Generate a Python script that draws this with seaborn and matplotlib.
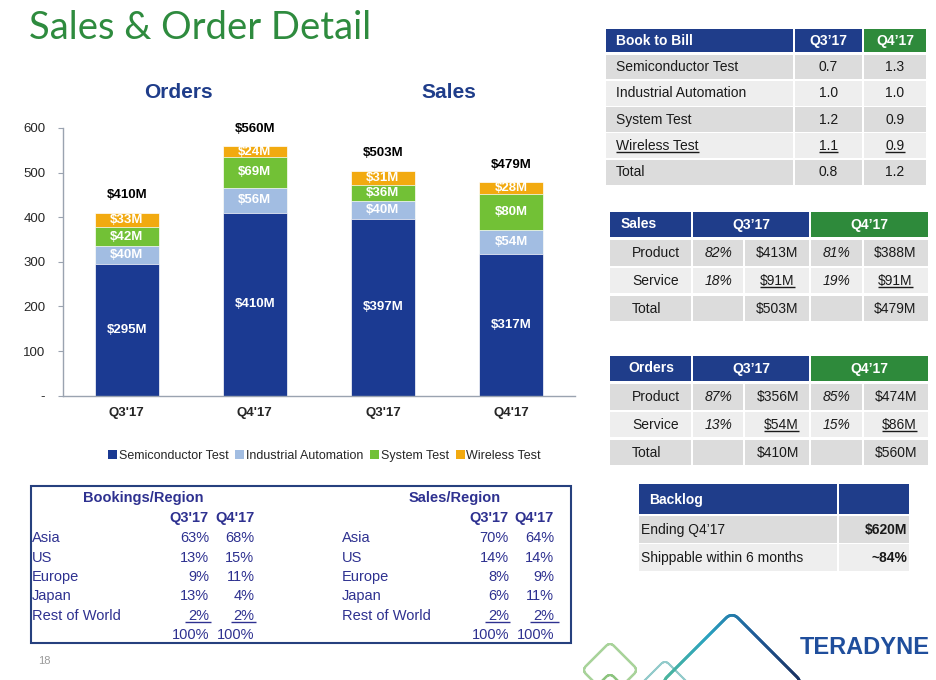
import numpy as np
import pandas as pd
import matplotlib
matplotlib.use("Agg")
import matplotlib.pyplot as plt
import seaborn as sns
from matplotlib.patches import Rectangle, Patch
from matplotlib.collections import LineCollection
from matplotlib.colors import LinearSegmentedColormap

# ---------------- data ----------------
groups = ["Orders", "Orders", "Sales", "Sales"]
periods = ["Q3'17", "Q4'17", "Q3'17", "Q4'17"]
segments = ["Semiconductor Test", "Industrial Automation", "System Test", "Wireless Test"]
semi_test = [295, 410, 397, 317]
ind_auto = [40, 56, 40, 54]
system_test = [42, 69, 36, 80]
wireless_test = [33, 24, 31, 28]
bar_totals = [410, 560, 503, 479]
y_ticks = [0, 100, 200, 300, 400, 500, 600]
y_tick_labels = ["-", "100", "200", "300", "400", "500", "600"]

b2b_rows = ["Semiconductor Test", "Industrial Automation", "System Test", "Wireless Test", "Total"]
b2b_q3 = ["0.7", "1.0", "1.2", "1.1", "0.8"]
b2b_q4 = ["1.3", "1.0", "0.9", "0.9", "1.2"]

mix_rows = ["Product", "Service", "Total"]
sales_q3_pct = ["82%", "18%", ""]
sales_q3_val = ["$413M", "$91M", "$503M"]
sales_q4_pct = ["81%", "19%", ""]
sales_q4_val = ["$388M", "$91M", "$479M"]
orders_q3_pct = ["87%", "13%", ""]
orders_q3_val = ["$356M", "$54M", "$410M"]
orders_q4_pct = ["85%", "15%", ""]
orders_q4_val = ["$474M", "$86M", "$560M"]

regions = ["Asia", "US", "Europe", "Japan", "Rest of World"]
book_q3 = ["63%", "13%", "9%", "13%", "2%"]
book_q4 = ["68%", "15%", "11%", "4%", "2%"]
sales_reg_q3 = ["70%", "14%", "8%", "6%", "2%"]
sales_reg_q4 = ["64%", "14%", "9%", "11%", "2%"]
region_total = "100%"

backlog_rows = ["Ending Q4\u201917", "Shippable within 6 months"]
backlog_vals = ["$620M", "~84%"]

# ---------------- style ----------------
sns.set_style("white")
SANS = ["Liberation Sans", "DejaVu Sans"]
plt.rcParams["font.family"] = SANS

BLUE_HDR = "#1f3d8a"
GREEN_HDR = "#2e8a3b"
ROW_DARK = "#dcdcdc"
ROW_LIGHT = "#eeeeee"
TXT = "#1a1a1a"
NAVY_TXT = "#2e3190"
seg_colors = ["#1b3a92", "#a2bde2", "#72c136", "#f2aa10"]

fig = plt.figure(figsize=(9.36, 6.8), dpi=100)
W, H = 936, 680

# ---------------- stacked bar chart (seaborn) ----------------
ax = fig.add_axes([62.7 / W, 1 - 395.7 / H, (575 - 62.7) / W, (395.7 - 128) / H])
keys = [f"{g} {p}" for g, p in zip(groups, periods)]
layers = np.array([semi_test, ind_auto, system_test, wireless_test], dtype=float)
cum = np.cumsum(layers, axis=0)
df = pd.DataFrame({"key": keys})
for i, name in enumerate(segments):
    df[name] = cum[i]
for i in reversed(range(len(segments))):
    sns.barplot(data=df, x="key", y=segments[i], order=keys, color=seg_colors[i],
                saturation=1, width=0.5, errorbar=None, ax=ax,
                edgecolor="white", linewidth=0.5)

for i in range(len(segments)):
    for j in range(len(keys)):
        v = layers[i, j]
        ax.text(j, cum[i, j] - v / 2, f"${int(v)}M", ha="center", va="center",
                color="white", fontsize=9.5, fontweight="bold")
for j, tot in enumerate(bar_totals):
    ax.annotate(f"${tot}M", (j, cum[-1, j]), xytext=(0, 12.5), textcoords="offset points",
                ha="center", va="center", fontsize=9.5, fontweight="bold", color="black")

ax.set_xlim(-0.5, 3.5)
ax.set_ylim(0, 600)
ax.set_xlabel("")
ax.set_ylabel("")
ax.set_xticks(range(len(keys)))
ax.set_xticklabels(periods, fontsize=9.5, fontweight="bold")
ax.set_xticks(np.arange(-0.5, len(keys), 1.0), minor=True)
ax.tick_params(axis="x", which="major", length=0, pad=8)
ax.tick_params(axis="x", which="minor", length=4, color="#9aa3b0", direction="out")
ax.set_yticks(y_ticks)
ax.set_yticklabels(y_tick_labels, fontsize=9.5)
ax.tick_params(axis="y", length=3.5, color="#9aa3b0", direction="out", pad=9, left=True)
for s in ["top", "right"]:
    ax.spines[s].set_visible(False)
for s in ["left", "bottom"]:
    ax.spines[s].set_color("#9aa3b0")
    ax.spines[s].set_linewidth(1.0)
ax.set_facecolor("none")

handles = [Patch(facecolor=c, edgecolor="none") for c in seg_colors]
fig.legend(handles, segments, loc="center", bbox_to_anchor=(324.5 / W, 1 - 456 / H),
           ncol=4, frameon=False, fontsize=9, handlelength=0.7, handleheight=0.7,
           handletextpad=0.15, columnspacing=0.55, borderaxespad=0)

# ---------------- overlay in pixel coordinates ----------------
ov = fig.add_axes([0, 0, 1, 1], zorder=5)
ov.set_xlim(0, W)
ov.set_ylim(H, 0)
ov.axis("off")
ov.patch.set_alpha(0)
renderer = fig.canvas.get_renderer()


def cell(x0, x1, y0, y1, color):
    ov.add_patch(Rectangle((x0, y0), x1 - x0, y1 - y0, facecolor=color, edgecolor="none"))


def txt(x, y, s, ha="left", size=10, color=TXT, weight="normal", style="normal",
        underline=False, ul_l=0.0, ul_r=0.0, family=None):
    t = ov.text(x, y, s, ha=ha, va="center", fontsize=size, color=color,
                fontweight=weight, fontstyle=style, family=family or SANS)
    if underline:
        bb = t.get_window_extent(renderer)
        inv = ov.transData.inverted()
        (xa, ya), (xb, yb) = inv.transform([[bb.x0, bb.y0], [bb.x1, bb.y1]])
        ov.plot([xa - ul_l, xb + ul_r], [ya - 1.0, ya - 1.0], color=color, lw=1.0,
                solid_capstyle="butt")
    return t


# title
txt(29, 28, "Sales & Order Detail", size=27.5, color="#2e8b3e", family=["Lato", "DejaVu Sans"])

# chart titles
txt(178, 92, "Orders", ha="center", size=15, color=BLUE_HDR, weight="bold")
txt(449, 93, "Sales", ha="center", size=15, color=BLUE_HDR, weight="bold")

# ---------------- Book to Bill table ----------------
cols = [(606, 793), (795, 862), (864, 926)]
cell(cols[0][0], cols[0][1], 29, 52, BLUE_HDR)
cell(cols[1][0], cols[1][1], 29, 52, BLUE_HDR)
cell(cols[2][0], cols[2][1], 29, 52, GREEN_HDR)
txt(616, 41, "Book to Bill", size=10, color="white", weight="bold")
txt(828.5, 41, "Q3\u201917", ha="center", size=10, color="white", weight="bold")
txt(895, 41, "Q4\u201917", ha="center", size=10, color="white", weight="bold")
for i, (lab, a, b) in enumerate(zip(b2b_rows, b2b_q3, b2b_q4)):
    top = 54.5 + i * 26.3
    col = ROW_DARK if i % 2 == 0 else ROW_LIGHT
    for (x0, x1) in cols:
        cell(x0, x1, top, top + 24.8, col)
    yc = top + 12.6
    ul = lab == "Wireless Test"
    txt(616, yc, lab, size=10, underline=ul)
    txt(828.5, yc, a, ha="center", size=10, underline=ul)
    txt(895, yc, b, ha="center", size=10, underline=ul)


# ---------------- Sales / Orders mix tables ----------------
def mix_table(y0, title, title_x, q3p, q3v, q4p, q4v, val_align):
    cell(610, 691, y0, y0 + 24.5, BLUE_HDR)
    cell(693, 809, y0, y0 + 24.5, BLUE_HDR)
    cell(811, 928, y0, y0 + 24.5, GREEN_HDR)
    yc = y0 + 12.5
    txt(title_x, yc, title, size=10, color="white", weight="bold")
    txt(751, yc, "Q3\u201917", ha="center", size=10, color="white", weight="bold")
    txt(869.5, yc, "Q4\u201917", ha="center", size=10, color="white", weight="bold")
    sub = [(610, 691), (693, 743), (745, 809), (811, 862), (864, 928)]
    for i, lab in enumerate(mix_rows):
        top = y0 + 28 + i * 27.9
        col = ROW_DARK if i % 2 == 0 else ROW_LIGHT
        for (x0, x1) in sub:
            cell(x0, x1, top, top + 25.5, col)
        yc = top + 12.8
        ul = lab == "Service"
        txt(632, yc, lab, size=10)
        txt(718.5, yc, q3p[i], ha="center", size=10, style="italic")
        txt(836.5, yc, q4p[i], ha="center", size=10, style="italic")
        if val_align == "center":
            txt(777.5, yc, q3v[i], ha="center", size=10, underline=ul)
            txt(895.5, yc, q4v[i], ha="center", size=10, underline=ul)
        else:
            txt(799, yc, q3v[i], ha="right", size=10, underline=ul)
            txt(917, yc, q4v[i], ha="right", size=10, underline=ul)


mix_table(212, "Sales", 621, sales_q3_pct, sales_q3_val, sales_q4_pct, sales_q4_val, "center")
mix_table(356, "Orders", 628, orders_q3_pct, orders_q3_val, orders_q4_pct, orders_q4_val, "right")

# ---------------- Backlog table ----------------
cell(639, 837, 484, 514, BLUE_HDR)
cell(839, 909, 484, 514, BLUE_HDR)
txt(649, 500, "Backlog", size=10, color="white", weight="bold")
for i, (lab, v) in enumerate(zip(backlog_rows, backlog_vals)):
    top = 516 + i * 28
    col = ROW_DARK if i % 2 == 0 else ROW_LIGHT
    cell(639, 837, top, top + 26.5, col)
    cell(839, 909, top, top + 26.5, col)
    yc = top + 14
    txt(641, yc, lab, size=10)
    txt(907, yc, v, ha="right", size=10, weight="bold")

# ---------------- Region table ----------------
ov.add_patch(Rectangle((31, 486), 540, 157, facecolor="none", edgecolor="#26407e", lw=1.5))
txt(143.6, 498, "Bookings/Region", ha="center", size=10.5, color=NAVY_TXT, weight="bold")
txt(455, 498, "Sales/Region", ha="center", size=10.5, color=NAVY_TXT, weight="bold")
for xr, lab in [(209, "Q3'17"), (254.5, "Q4'17"), (509, "Q3'17"), (554, "Q4'17")]:
    txt(xr, 518, lab, ha="right", size=10.5, color=NAVY_TXT, weight="bold")
row_y = [538, 557.5, 577, 596, 615.5]
for i, reg in enumerate(regions):
    y = row_y[i]
    ul = reg == "Rest of World"
    txt(32, y, reg, size=10.5, color=NAVY_TXT)
    txt(342, y, reg, size=10.5, color=NAVY_TXT)
    txt(209, y, book_q3[i], ha="right", size=10.5, color=NAVY_TXT, underline=ul, ul_l=3, ul_r=2)
    txt(254.5, y, book_q4[i], ha="right", size=10.5, color=NAVY_TXT, underline=ul, ul_l=3, ul_r=1)
    txt(509, y, sales_reg_q3[i], ha="right", size=10.5, color=NAVY_TXT, underline=ul, ul_l=3, ul_r=1)
    txt(554, y, sales_reg_q4[i], ha="right", size=10.5, color=NAVY_TXT, underline=ul, ul_l=3, ul_r=5)
for xr in [209, 254.5, 509, 554]:
    txt(xr, 635, region_total, ha="right", size=10.5, color=NAVY_TXT)

# page number
txt(38, 661, "18", size=8, color="#9a9a9a")


# ---------------- decorative diamonds ----------------
def rdiamond(cx, cy, half, r, lw, color=None, cmap=None):
    s = half / np.sqrt(2)
    pts = []
    for (px, py, a0) in [(s - r, s - r, 0), (-(s - r), s - r, 90),
                         (-(s - r), -(s - r), 180), (s - r, -(s - r), 270)]:
        ang = np.radians(np.linspace(a0, a0 + 90, 10))
        pts += list(zip(px + r * np.cos(ang), py + r * np.sin(ang)))
    pts.append(pts[0])
    pts = np.array(pts)
    c = np.cos(np.pi / 4)
    rot = np.column_stack([(pts[:, 0] - pts[:, 1]) * c, (pts[:, 0] + pts[:, 1]) * c])
    rot += [cx, cy]
    seg_len = np.r_[0, np.cumsum(np.hypot(*np.diff(rot, axis=0).T))]
    t = np.linspace(0, seg_len[-1], 500)
    dense = np.column_stack([np.interp(t, seg_len, rot[:, 0]), np.interp(t, seg_len, rot[:, 1])])
    segs = np.stack([dense[:-1], dense[1:]], axis=1)
    if cmap is not None:
        vals = (segs[:, 0, 0] - (cx - half)) / (2 * half)
        lc = LineCollection(segs, colors=cmap(np.clip(vals, 0, 1)), linewidths=lw, capstyle="round")
    else:
        lc = LineCollection(segs, colors=color, linewidths=lw, capstyle="round")
    ov.add_collection(lc)


rdiamond(610, 670, 28, 5, 1.5, color="#a8d39a")
rdiamond(610, 701, 28, 5, 1.5, color="#8cc47e")
rdiamond(665, 685, 25, 5, 1.3, color="#93cbcb")
big_cmap = LinearSegmentedColormap.from_list("deco", ["#4fb79a", "#2aa2c0", "#1f5b98", "#1a2f5e"])
rdiamond(732, 683, 71, 8, 2.0, cmap=big_cmap)

# logo
txt(800, 648, "TERADYNE", size=17, color="#1f4e9c", weight="bold")

fig.savefig("out.png", dpi=100)
